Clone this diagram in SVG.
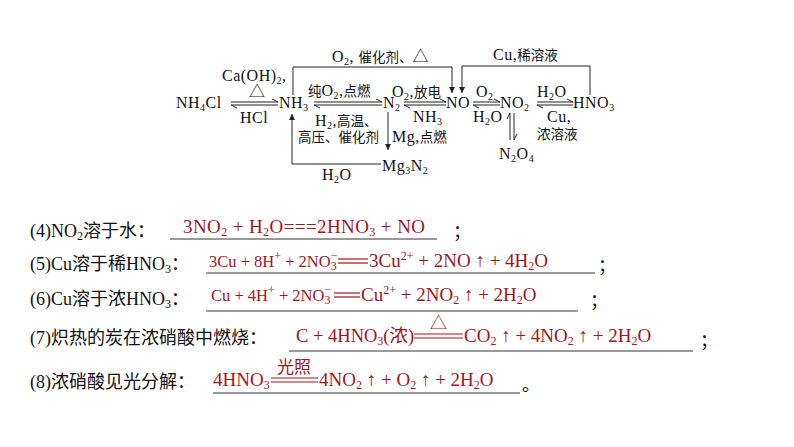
<svg xmlns="http://www.w3.org/2000/svg" width="794" height="447" viewBox="0 0 794 447">
<style>
.t{font-family:"Liberation Serif","Noto Sans CJK SC",serif;font-size:16px;letter-spacing:0.5px;fill:#111}
.c{font-size:13.5px;letter-spacing:0}
.s{font-size:10px}
.b{font-family:"Liberation Serif","Noto Sans CJK SC",serif;font-size:18px;fill:#111}
.r{font-family:"Liberation Serif","Noto Sans CJK SC",serif;font-size:19px;fill:#a3151b}
.r2{font-size:16.5px}
.r3{font-size:18.5px}
.rs{font-size:12px}
.ln{stroke:#222;stroke-width:1;fill:none}
.ul{stroke:#333;stroke-width:1}
.rl{stroke:#a3151b;stroke-width:1.2}
</style>
<defs><marker id="a" markerWidth="8" markerHeight="8" refX="6" refY="3" orient="auto"><path d="M0,0 L6,3 L0,6 Z" fill="#222"/></marker></defs>
<rect width="794" height="447" fill="#fff"/>
<g id="nodes">
<g id="nh4cl"><text class="t" x="176" y="108">NH<tspan class="s" dy="3">4</tspan><tspan dy="-3">Cl</tspan></text></g>
<g id="nh3"><text class="t" x="279" y="108">NH<tspan class="s" dy="3">3</tspan></text></g>
<g id="n2"><text class="t" x="383" y="108">N<tspan class="s" dy="3">2</tspan></text></g>
<g id="no"><text class="t" x="446" y="108">NO</text></g>
<g id="no2"><text class="t" x="500" y="108">NO<tspan class="s" dy="3">2</tspan></text></g>
<g id="hno3"><text class="t" x="573" y="108">HNO<tspan class="s" dy="3">3</tspan></text></g>
<g id="mg3n2"><text class="t" x="382" y="171">Mg<tspan class="s" dy="3">3</tspan><tspan dy="-3">N</tspan><tspan class="s" dy="3">2</tspan></text></g>
<g id="n2o4"><text class="t" x="499" y="159">N<tspan class="s" dy="3">2</tspan><tspan dy="-3">O</tspan><tspan class="s" dy="3">4</tspan></text></g>
</g>
<g id="labels">
<text class="t" x="222" y="81">Ca(OH)<tspan class="s" dy="3">2</tspan><tspan dy="-3">,</tspan></text>
<text class="t" x="249" y="97">△</text>
<text class="t" x="240" y="123">HCl</text>
<text class="t" x="308" y="96"><tspan class="c">纯</tspan>O<tspan class="s" dy="3">2</tspan><tspan dy="-3">,</tspan><tspan class="c">点燃</tspan></text>
<text class="t" x="315" y="126">H<tspan class="s" dy="3">2</tspan><tspan dy="-3">,</tspan><tspan class="c">高温、</tspan></text>
<text class="t c" x="298" y="142">高压、催化剂</text>
<text class="t" x="392" y="97">O<tspan class="s" dy="3">2</tspan><tspan dy="-3">,</tspan><tspan class="c">放电</tspan></text>
<text class="t" x="413" y="122">NH<tspan class="s" dy="3">3</tspan></text>
<text class="t" x="332" y="62">O<tspan class="s" dy="3">2</tspan><tspan dy="-3">, </tspan><tspan class="c">催化剂、</tspan>△</text>
<text class="t" x="493" y="60">Cu,<tspan class="c">稀溶液</tspan></text>
<text class="t" x="392" y="142">Mg,<tspan class="c">点燃</tspan></text>
<text class="t" x="322" y="180">H<tspan class="s" dy="3">2</tspan><tspan dy="-3">O</tspan></text>
<text class="t" x="476" y="97">O<tspan class="s" dy="3">2</tspan></text>
<text class="t" x="473" y="122">H<tspan class="s" dy="3">2</tspan><tspan dy="-3">O</tspan></text>
<text class="t" x="537" y="97">H<tspan class="s" dy="3">2</tspan><tspan dy="-3">O</tspan></text>
<text class="t" x="547" y="122">Cu,</text>
<text class="t c" x="537" y="139">浓溶液</text>
</g>
<g id="connectors" class="ln">
<path d="M231,102 H278 l-6,-3"/><path d="M278,105 H231 l6,3"/>
<path d="M314,102 H382 l-6,-3"/><path d="M382,105 H314 l6,3"/>
<path d="M404,102 H446 l-6,-3"/><path d="M446,105 H404 l6,3"/>
<path d="M473,102 H500 l-6,-3"/><path d="M500,105 H473 l6,3"/>
<path d="M537,102 H573 l-6,-3"/><path d="M573,105 H537 l6,3"/>
<path d="M510,140 V113 l-3,6"/><path d="M514,113 V140 l3,-6"/>
<path d="M293,95 V67 H452 V93" marker-end="url(#a)"/>
<path d="M590,95 V66 H462 V93" marker-end="url(#a)"/>
<path d="M388,112 V150" marker-end="url(#a)"/>
<path d="M381,164 H292 V114" marker-end="url(#a)"/>
</g>
<g id="questions">
<text class="b" x="30" y="237">(4)NO<tspan class="rs" dy="3">2</tspan><tspan dy="-3">溶于水：</tspan></text>
<text class="r" x="183" y="233" textLength="242" lengthAdjust="spacing">3NO<tspan class="rs" dy="3">2</tspan><tspan dy="-3"> + H</tspan><tspan class="rs" dy="3">2</tspan><tspan dy="-3">O===2HNO</tspan><tspan class="rs" dy="3">3</tspan><tspan dy="-3"> + NO</tspan></text>
<line class="ul" x1="170" y1="239" x2="437" y2="239"/>
<text class="b" x="453" y="238">；</text>

<text class="b" x="30" y="270">(5)Cu溶于稀HNO<tspan class="rs" dy="3">3</tspan><tspan dy="-3">：</tspan></text>
<text class="r r2" x="209" y="267">3Cu + 8H<tspan class="rs" dy="-7">+</tspan><tspan dy="7"> + 2NO</tspan><tspan class="rs" dy="3">3</tspan><tspan class="rs" dx="-6" dy="-11">−</tspan></text>
<line class="rl" x1="338" y1="259" x2="368" y2="259"/><line class="rl" x1="338" y1="263" x2="368" y2="263"/>
<text class="r" x="369" y="267">3Cu<tspan class="rs" dy="-7">2+</tspan><tspan dy="7"> + 2NO ↑ + 4H</tspan><tspan class="rs" dy="3">2</tspan><tspan dy="-3">O</tspan></text>
<line class="ul" x1="206" y1="273" x2="595" y2="273"/>
<text class="b" x="598" y="272">；</text>

<text class="b" x="30" y="305">(6)Cu溶于浓HNO<tspan class="rs" dy="3">3</tspan><tspan dy="-3">：</tspan></text>
<text class="r r2" x="211" y="301">Cu + 4H<tspan class="rs" dy="-7">+</tspan><tspan dy="7"> + 2NO</tspan><tspan class="rs" dy="3">3</tspan><tspan class="rs" dx="-6" dy="-11">−</tspan></text>
<line class="rl" x1="334" y1="293" x2="360" y2="293"/><line class="rl" x1="334" y1="297" x2="360" y2="297"/>
<text class="r" x="361" y="301">Cu<tspan class="rs" dy="-7">2+</tspan><tspan dy="7"> + 2NO</tspan><tspan class="rs" dy="3">2</tspan><tspan dy="-3"> ↑ + 2H</tspan><tspan class="rs" dy="3">2</tspan><tspan dy="-3">O</tspan></text>
<line class="ul" x1="206" y1="311" x2="578" y2="311"/>
<text class="b" x="590" y="307">；</text>

<text class="b" x="30" y="344">(7)炽热的炭在浓硝酸中燃烧：</text>
<text class="r r3" x="296" y="342">C + 4HNO<tspan class="rs" dy="3">3</tspan><tspan dy="-3">(浓)</tspan></text>
<line class="rl" x1="414" y1="334" x2="463" y2="334"/><line class="rl" x1="414" y1="338" x2="463" y2="338"/>
<text class="r" x="430" y="329" style="font-size:17px">△</text>
<text class="r" x="464" y="342">CO<tspan class="rs" dy="3">2</tspan><tspan dy="-3"> ↑ + 4NO</tspan><tspan class="rs" dy="3">2</tspan><tspan dy="-3"> ↑ + 2H</tspan><tspan class="rs" dy="3">2</tspan><tspan dy="-3">O</tspan></text>
<line class="ul" x1="289" y1="351" x2="693" y2="351"/>
<text class="b" x="700" y="347">；</text>

<text class="b" x="30" y="388">(8)浓硝酸见光分解：</text>
<text class="r" x="213" y="386">4HNO<tspan class="rs" dy="3">3</tspan></text>
<line class="rl" x1="271" y1="378" x2="318" y2="378"/><line class="rl" x1="271" y1="382" x2="318" y2="382"/>
<text class="r" x="277" y="373" style="font-size:17px">光照</text>
<text class="r" x="319" y="386">4NO<tspan class="rs" dy="3">2</tspan><tspan dy="-3"> ↑ + O</tspan><tspan class="rs" dy="3">2</tspan><tspan dy="-3"> ↑ + 2H</tspan><tspan class="rs" dy="3">2</tspan><tspan dy="-3">O</tspan></text>
<line class="ul" x1="213" y1="393" x2="520" y2="393"/>
<text class="b" x="522" y="391">。</text>
</g>
</svg>
